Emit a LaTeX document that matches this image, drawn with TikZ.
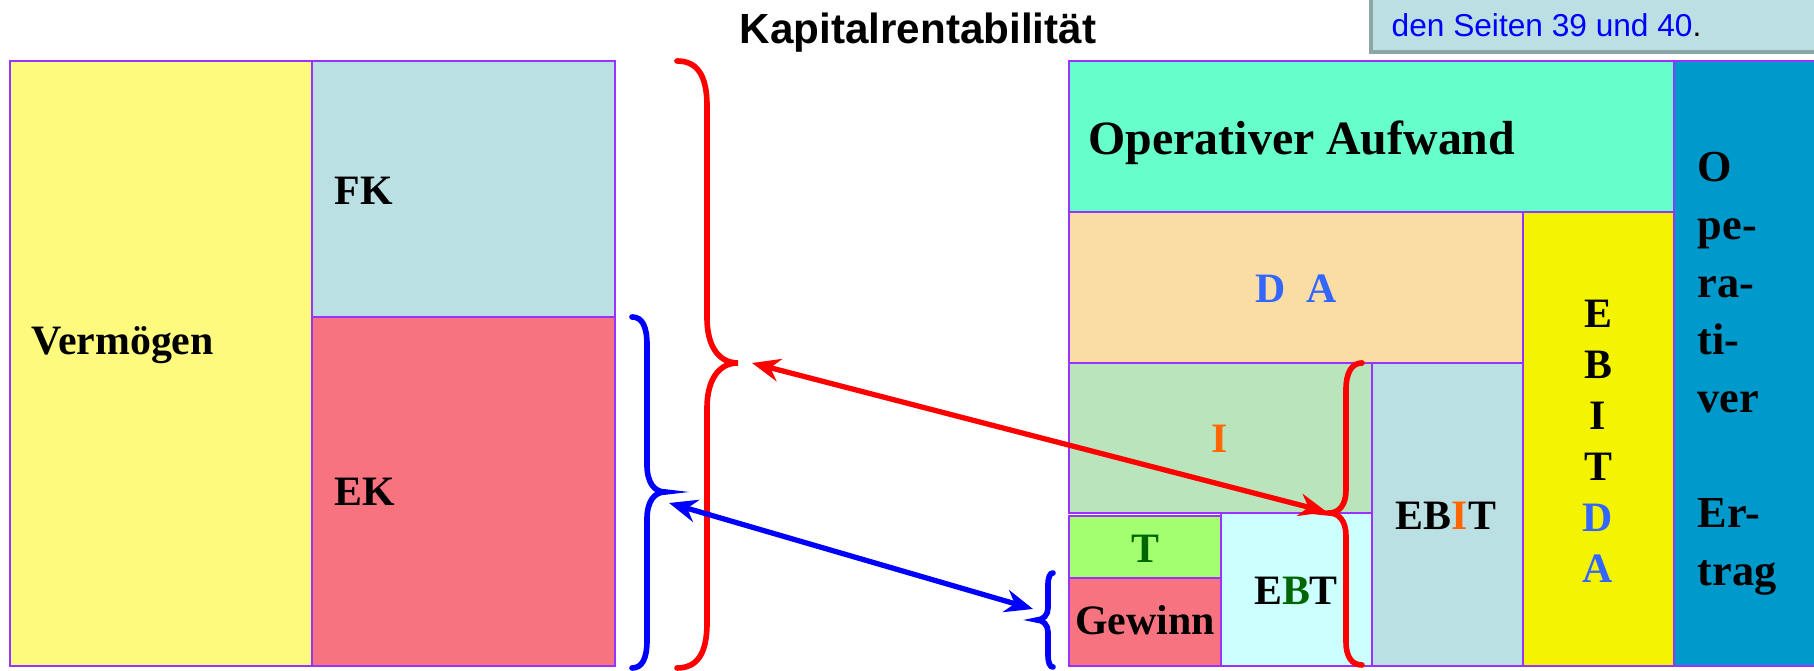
\documentclass[tikz,border=0pt]{standalone}
\usepackage{fontspec}
\setmainfont{Liberation Serif}
\newfontfamily\arialfont{Liberation Sans}
\usetikzlibrary{arrows.meta}

\definecolor{vermoegen}{RGB}{253,250,125}
\definecolor{fkcol}{RGB}{187,224,227}
\definecolor{ekcol}{RGB}{248,115,128}
\definecolor{aufwand}{RGB}{102,255,204}
\definecolor{dacol}{RGB}{249,221,164}
\definecolor{icol}{RGB}{185,228,188}
\definecolor{tcol}{RGB}{164,255,112}
\definecolor{ebtcol}{RGB}{204,255,255}
\definecolor{ebitdacol}{RGB}{244,244,0}
\definecolor{ertrag}{RGB}{0,153,204}
\definecolor{rahmen}{RGB}{153,51,255}
\definecolor{notiz}{RGB}{187,223,227}
\definecolor{schatten}{RGB}{140,165,165}
\definecolor{dablau}{RGB}{51,102,255}
\definecolor{iorange}{RGB}{255,102,0}
\definecolor{tgruen}{RGB}{0,102,0}

\begin{document}
\begin{tikzpicture}[x=0.01cm, y=-0.01cm,
    feld/.style={draw=rahmen, line width=0.6pt},
    lbl/.style={inner sep=0pt, font=\bfseries\fontsize{11.9}{14.3}\selectfont},
    klammer/.style={line width=1.6pt, line cap=round},
    pfeil/.style={line width=1.5pt, {Stealth[length=8pt,width=6.5pt]}-{Stealth[length=8pt,width=6.5pt]}}]
      \useasboundingbox (0,0) rectangle (1814,671);
      \clip (0,0) rectangle (1814,671);

      \filldraw[feld, fill=vermoegen] (10,61) rectangle (312,666);
      \filldraw[feld, fill=fkcol] (312,61) rectangle (615,317);
      \filldraw[feld, fill=ekcol] (312,317) rectangle (615,666);

      \filldraw[feld, fill=aufwand] (1069,61) rectangle (1674,212);
      \filldraw[feld, fill=dacol] (1069,212) rectangle (1523,363);
      \filldraw[feld, fill=icol] (1069,363) rectangle (1372,513);
      \filldraw[feld, fill=tcol] (1069,516) rectangle (1221,578);
      \filldraw[feld, fill=ekcol] (1069,578) rectangle (1221,666);
      \filldraw[feld, fill=ebtcol] (1221,513) rectangle (1372,666);
      \filldraw[feld, fill=fkcol] (1372,363) rectangle (1523,666);
      \filldraw[feld, fill=ebitdacol] (1523,212) rectangle (1674,666);
      \filldraw[feld, fill=ertrag] (1674,61) rectangle (1830,666);

      \fill[schatten] (1369,-20) rectangle (1830,54);
      \fill[notiz] (1373,-20) rectangle (1830,50);
      \node[anchor=base west, inner sep=0pt, text=blue, font=\arialfont\fontsize{9}{11}\selectfont] (quelle) at (1391,37) {den Seiten 39 und 40\textcolor{black}{.}};

      \node[anchor=base, inner sep=0pt, font=\arialfont\bfseries\fontsize{12}{14}\selectfont] (titel) at (918,44) {Kapitalrentabilität};

      \node[lbl, anchor=base west] (vermoegen) at (31,355) {Vermögen};
      \node[lbl, anchor=base west] (fk) at (334,205) {FK};
      \node[lbl, anchor=base west] (ek) at (334,506) {EK};
      \node[lbl, anchor=base west, font=\bfseries\fontsize{13.6}{16}\selectfont] (aufwand) at (1088,155) {Operativer Aufwand};
      \node[lbl, anchor=base, text=dablau] (da) at (1296,303) {D\ \ A};
      \node[lbl, anchor=base, text=iorange] (i) at (1220,453) {I};
      \node[lbl, anchor=base, text=tgruen] (t) at (1145,563) {T};
      \node[lbl, anchor=base] (gewinn) at (1145,635) {Gewinn};
      \node[lbl, anchor=base] (ebt) at (1296,605) {E\textcolor{tgruen}{B}T};
      \node[lbl, anchor=base] (ebit) at (1446,530) {EB\textcolor{iorange}{I}T};
      \node[lbl, align=center, font=\bfseries\fontsize{11.9}{14.5}\selectfont] (ebitda) at (1598,441) {E\\B\\I\\T\\\textcolor{dablau}{D}\\\textcolor{dablau}{A}};
      \node[lbl, align=left, anchor=west, font=\bfseries\fontsize{12.6}{16.4}\selectfont] (ertrag) at (1697,374) {O\\pe-\\ra-\\ti-\\ver\\[16.4pt]Er-\\trag};

      \draw[klammer, red] (677,61) .. controls (697,61) and (707,75) .. (707,106) -- (707,318)
        .. controls (707,345) and (718,363) .. (738,363) .. controls (718,363) and (707,381) .. (707,408)
        -- (707,623) .. controls (707,654) and (697,668) .. (677,668);
      \draw[klammer, blue] (632,317) .. controls (642,317) and (647,326) .. (647,345) -- (647,465)
        .. controls (647,482) and (654,492) .. (665,492) .. controls (654,492) and (647,502) .. (647,519)
        -- (647,640) .. controls (647,659) and (642,668) .. (632,668);
      \draw[klammer, blue] (1053,573) .. controls (1050,573) and (1048,577) .. (1048,585) -- (1048,608)
        .. controls (1048,615) and (1043,620) .. (1037,620) .. controls (1043,620) and (1048,625) .. (1048,632)
        -- (1048,655) .. controls (1048,663) and (1050,667) .. (1053,667);
      \draw[klammer, red] (1362,363) .. controls (1352,363) and (1346,372) .. (1346,390) -- (1346,490)
        .. controls (1346,505) and (1339,513) .. (1329,513) .. controls (1339,513) and (1346,521) .. (1346,536)
        -- (1346,642) .. controls (1346,657) and (1352,665) .. (1362,665);

      \coordinate (gkPfeil) at (752,363);
      \coordinate (ebitPfeil) at (1327,512);
      \coordinate (ekPfeil) at (669,503);
      \coordinate (gewinnPfeil) at (1033,609);
      \draw[pfeil, red] (gkPfeil) -- (ebitPfeil);
      \draw[pfeil, blue] (ekPfeil) -- (gewinnPfeil);
\end{tikzpicture}
\end{document}
